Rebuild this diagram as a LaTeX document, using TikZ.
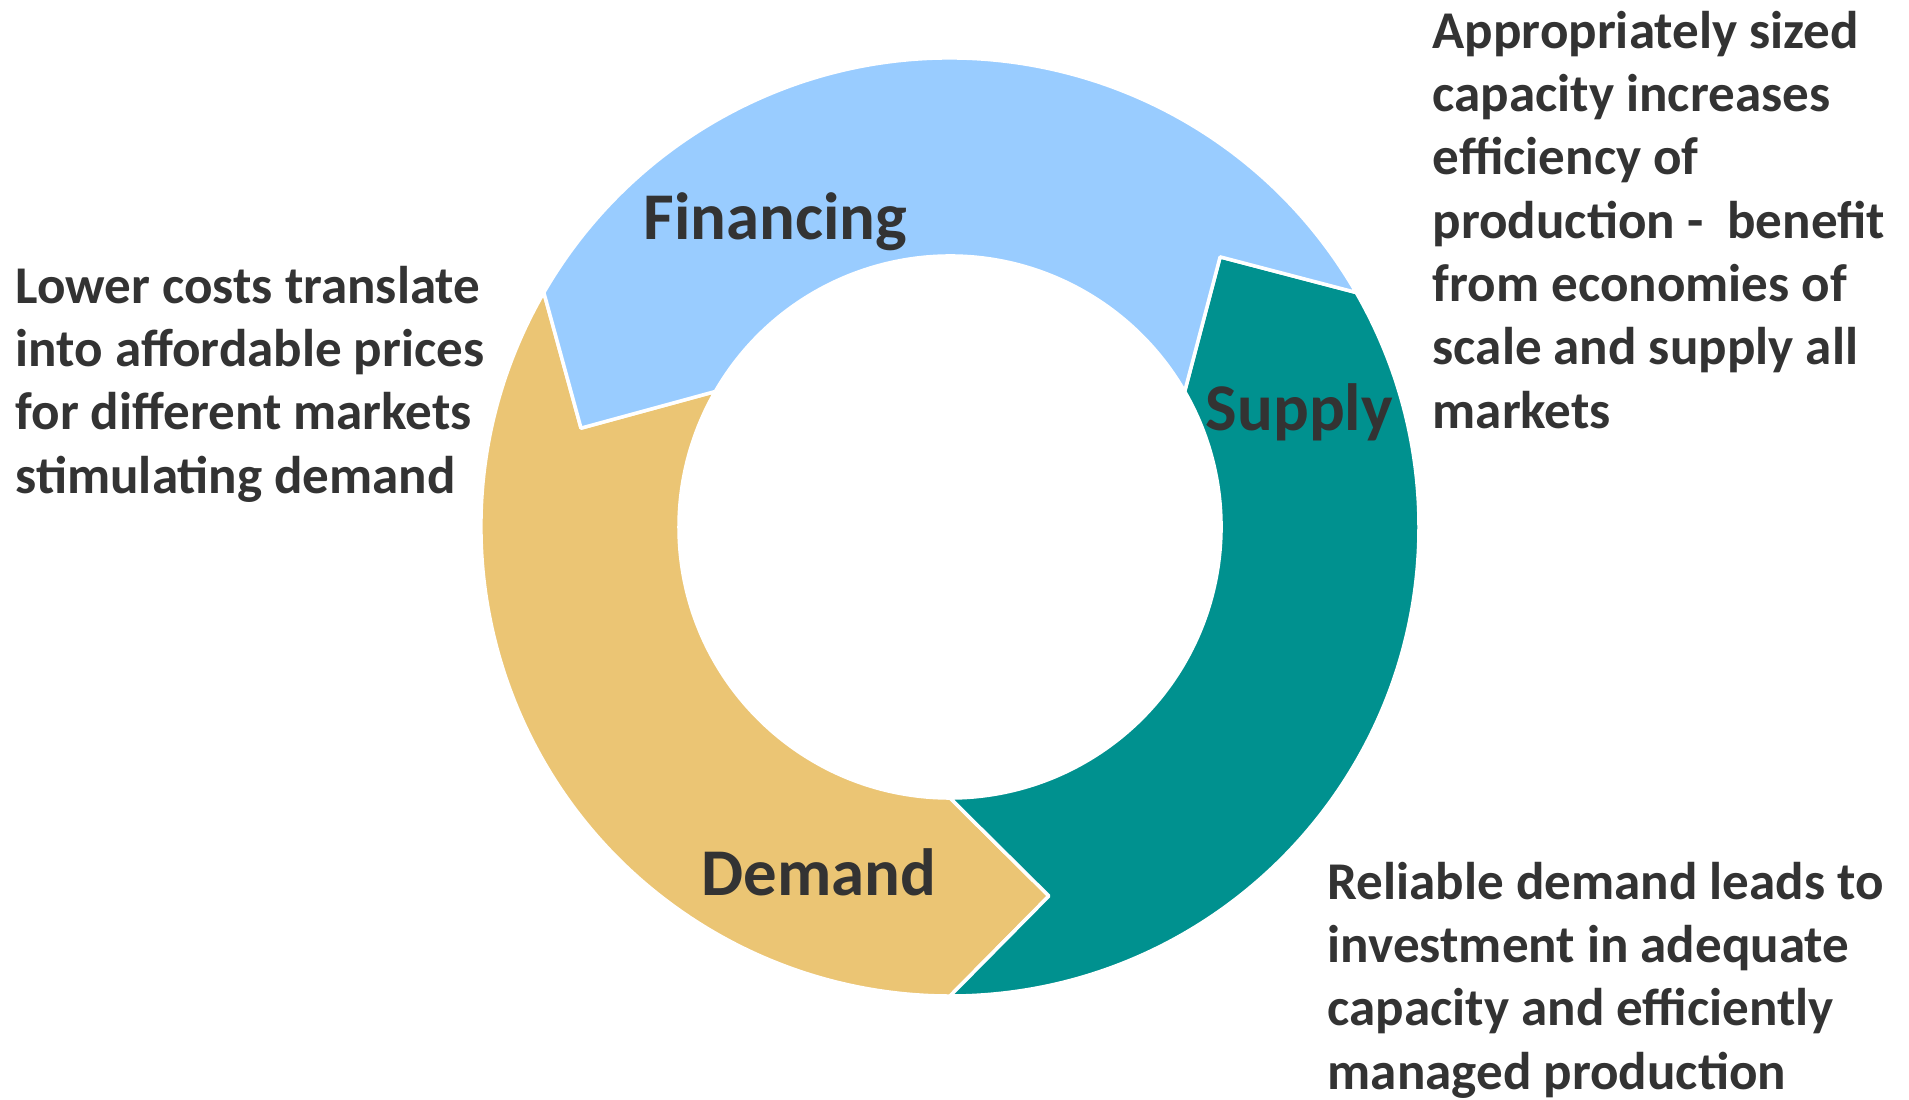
\documentclass[tikz,border=0pt]{standalone}
\usepackage{fontspec}
\setmainfont{Carlito}
\usepackage{tikz}
\definecolor{finc}{RGB}{153,204,255}
\definecolor{supc}{RGB}{0,145,143}
\definecolor{demc}{RGB}{235,197,116}
\definecolor{txtc}{RGB}{51,51,51}
\tikzset{ seg/.style = { draw = white % ring piece
        , line width = 1pt
        , line join = round
        }
        , lbl/.style = { anchor = base west % word on the ring
        , inner sep = 0pt
        , text = txtc
        , font = \fontsize{19}{23}\selectfont\bfseries
        }
        , note/.style = { anchor = base west % text beside the ring (base = last line)
        , inner sep = 0pt
        , align = left
        , text = txtc
        , font = \fontsize{15.1}{18}\selectfont\bfseries
        }
        }

\begin{document}
\begin{tikzpicture}
        \useasboundingbox (-9.50,5.27) rectangle (9.59,-5.72);
        \coordinate (c) at (0,0);
        % demand
        \filldraw [seg, fill=demc] (150:4.69) arc[start angle=150, end angle=270, radius=4.69] -- (285:3.82) -- (270:2.71) arc[start angle=270, end angle=150, radius=2.71] -- (165:3.82) -- cycle;
        % supply
        \filldraw [seg, fill=supc] (270:4.69) arc[start angle=270, end angle=390, radius=4.69] -- (405:3.82) -- (390:2.71) arc[start angle=390, end angle=270, radius=2.71] -- (285:3.82) -- cycle;
        % financing
        \filldraw [seg, fill=finc] (30:4.69) arc[start angle=30, end angle=150, radius=4.69] -- (165:3.82) -- (150:2.71) arc[start angle=150, end angle=30, radius=2.71] -- (45:3.82) -- cycle;

        \node [lbl] (fin) at (-3.07,2.88) {Financing};
        \node [lbl] (sup) at (2.55,0.97) {Supply};
        \node [lbl] (dem) at (-2.49,-3.68) {Demand};

        \node [note] (lower) at (-9.35,0.34) {Lower costs translate\\into affordable prices\\for different markets\\stimulating demand};
        \node [note] (sized) at (4.82,0.99) {Appropriately sized\\capacity increases\\efficiency of\\production -\ \ benefit\\from economies of\\scale and supply all\\markets};
        \node [note] (reliable) at (3.77,-5.62) {Reliable demand leads to\\investment in adequate\\capacity and efficiently\\managed production};
\end{tikzpicture}
\end{document}
